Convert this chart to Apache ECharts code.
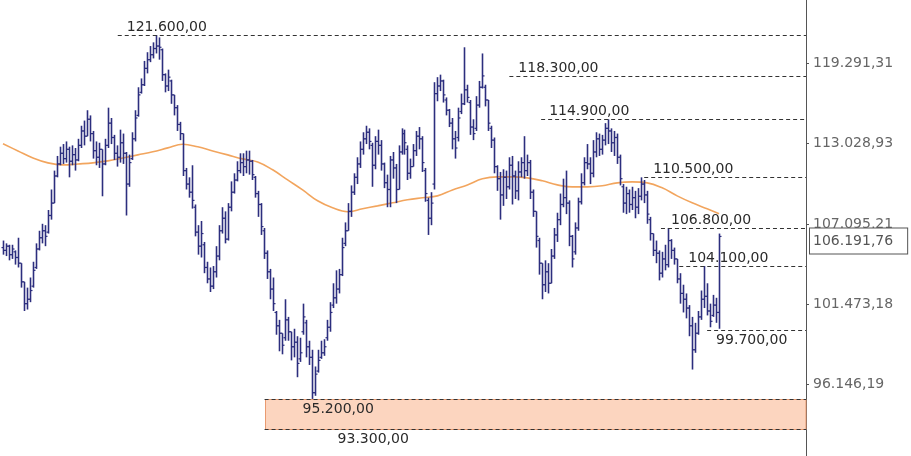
<!DOCTYPE html>
<html>
<head>
<meta charset="utf-8">
<title>Chart</title>
<script src="https://cdn.jsdelivr.net/npm/echarts@6/dist/echarts.min.js"></script>
<style>
  html, body { margin: 0; padding: 0; background: #fff; }
  #chart { width: 911px; height: 456px; }
</style>
</head>
<body>
<div id="chart"></div>
<script>
// OHLC bars, one per session (index 0..239)
const opens = [
  105400,105200,105500,104900,105100,104700,104300,103000,101500,101800,
  102700,104000,105300,106100,106600,106500,107700,108600,110600,111500,
  112300,111900,112600,111700,112200,111800,112900,114000,113600,114900,
  113800,112500,112000,112600,111500,112900,114600,113500,112300,112000,
  113100,112300,110000,111900,113400,115200,117000,117600,118900,119600,
  120000,120500,120700,120400,118400,117500,117900,116800,115800,114500,
  113800,111000,110000,109400,108300,106500,105500,105600,104000,103200,
  102700,103700,104800,106600,107500,106000,108300,109400,110300,111000,
  111600,111300,111800,111700,110500,109300,108500,106600,105000,103700,
  102500,100900,100000,99500,99200,100400,99600,98600,98900,97800,
  99600,100200,98600,97900,95600,97000,97900,98200,99200,99900,
  101400,101900,102500,103500,105700,106600,108000,109400,110500,111500,
  112600,113400,113900,112900,111400,113200,112900,111500,110100,109600,
  111800,111200,109600,112400,113800,112600,110800,111300,112500,113600,
  113400,111000,108800,107500,110000,116900,117500,117900,116400,115600,
  114600,113400,113500,115500,116100,117200,116200,114300,114200,116000,
  117400,117400,116400,114200,113300,111300,110400,109200,110500,109800,
  111400,110600,109500,110900,111600,111000,111600,109400,108000,105900,
  104300,102800,103700,102900,104800,106300,107400,108500,109000,108600,
  106200,105100,106800,108700,110100,111600,111500,110800,112400,113400,
  112600,113300,114200,114000,113100,113500,112000,109800,108600,109300,
  108500,109000,108300,109100,110000,109200,107400,106400,105200,105000,
  103600,104600,104200,105900,105200,104600,103200,102200,101800,101200,
  100000,98400,99500,100600,101800,102000,101000,100700,101400,100900
];
const highs = [
  105900,105700,105600,105600,105200,106100,104300,103000,102600,103300,
  104400,105700,106600,107100,107000,108100,109600,111000,112100,112800,
  113000,113200,112800,112900,112700,113400,114400,114800,115600,115200,
  114000,113200,113100,112600,113400,115800,115000,113700,112900,114100,
  113800,112400,112200,113900,115600,117400,118100,119500,120200,120700,
  121000,121600,121400,120500,118500,118800,118000,116800,116000,114700,
  113800,111200,110500,111400,108500,107000,107300,105800,104400,104000,
  104100,105500,107000,108300,108000,108600,110200,110800,111700,112300,
  112300,112500,112500,111800,110600,109500,108600,106800,105200,103900,
  103300,101000,100400,99500,101800,100600,99600,99800,99300,99200,
  101500,100400,99000,98400,97300,98400,99000,99100,100400,101600,
  102900,103800,103900,106100,107200,108600,109900,110800,112000,113200,
  113900,114400,114200,113100,113600,114100,113300,111600,110700,112100,
  112400,111500,112900,114200,114100,112900,111900,113000,114000,114300,
  113600,111200,109000,109400,117800,118200,118400,118000,116600,115700,
  115000,114000,115800,116900,120600,117600,116400,114900,116700,117900,
  120100,117600,116400,114400,113500,111400,110900,111100,111000,112000,
  112100,111000,111700,112000,113600,112200,111800,109600,108000,106100,
  104300,104500,104300,105300,106800,107900,109300,110400,111000,108800,
  106300,107200,109000,110800,112000,113000,112000,113300,113900,113800,
  113700,114600,114900,114200,114000,113800,112200,110000,109800,109600,
  109800,109500,109700,110500,110300,109500,107600,106400,105900,105200,
  105100,105600,106800,106000,105400,104600,103600,102800,102200,101400,
  100600,100200,101000,102400,104100,102900,101500,102100,101900,106400
];
const lows = [
  104900,104800,104500,104600,104200,104000,102600,101000,101100,101600,
  102600,103900,105200,105700,105500,106400,107400,108600,110500,111400,
  111500,111600,110500,111400,111000,111700,112700,112900,113600,113200,
  111900,111400,111200,109100,111400,112700,113000,111800,111300,111600,
  111500,107700,109800,111800,113200,115100,116900,117500,118500,119400,
  119700,120100,119600,117900,117000,117100,116100,115200,114000,113300,
  110600,109600,109000,108200,106200,104900,104700,103600,102900,102300,
  102500,103300,104500,106400,105700,105900,108000,109300,110200,110800,
  110600,110800,110700,110300,109000,107600,106300,104600,103200,101800,
  101000,99400,98300,98100,99000,99000,97700,97900,96600,97600,
  99400,97900,97400,95200,95400,96900,97800,98000,99000,99600,
  101200,101500,102200,103400,105500,106600,107600,109200,110000,111200,
  112200,113000,112600,109800,111100,112200,111000,109700,108300,108300,
  110400,108600,109600,112200,112200,110300,110400,111300,112100,112600,
  110900,108700,106300,107000,109600,116300,117100,116200,115200,114300,
  112600,111900,113200,115300,116000,116200,113700,113300,114000,115800,
  117300,115900,114000,112700,110800,109500,107400,108400,108900,109600,
  108500,108900,108800,110500,110400,110600,108900,107600,105400,103500,
  101800,102300,102200,102900,104600,105800,107000,108300,107800,105500,
  104000,104900,106600,108500,109900,111100,110000,110500,112000,112100,
  112200,112900,113000,112400,112100,111500,109900,107900,107800,107900,
  108100,107500,107800,108800,108600,107100,105900,104800,104300,103100,
  103300,103800,104000,104600,104200,102900,101500,100900,100500,99300,
  97100,98200,99400,100400,101200,100700,99900,100600,100200,99800
];
const closes = [
  105200,105500,104900,105300,104700,104300,103000,101500,101800,102400,
  103800,105300,106100,106600,106200,107700,108600,110600,111500,112300,
  111900,112600,111700,112200,111800,112900,114000,113600,114900,113800,
  112500,112000,112600,111500,112900,114600,113500,112300,112000,113100,
  112300,110000,111600,113400,115000,116800,117600,118900,119600,120000,
  120500,120700,120600,118400,117500,118200,116800,115800,114500,113800,
  111000,110000,109400,108800,106500,105500,106400,104000,103200,102700,
  103700,104800,106600,107500,106000,108300,109400,110300,111000,111600,
  111300,111800,111700,110700,109300,108500,106900,105000,103700,102500,
  101500,100000,99500,98700,100400,99600,98600,98900,97500,98200,
  100600,98600,97900,95600,96800,97700,98200,98600,99900,100900,
  101900,102500,103500,105400,106600,108000,109400,110500,111500,112600,
  113400,113900,113200,111400,113200,112900,111500,110100,109600,111800,
  111200,109600,112400,113800,113100,110800,111300,112500,113600,113400,
  111600,109300,107500,108600,116900,117500,117900,116800,115600,114600,
  113400,112700,115000,116100,117200,116600,114300,113800,116000,117400,
  118300,116400,114600,113300,111300,110400,109200,110500,109800,111400,
  110600,109500,110900,111600,111000,111600,109400,108000,106200,104300,
  102800,103700,102900,104800,106300,107400,108500,109000,108600,106200,
  104600,106800,108700,110100,111600,111500,110800,112400,113400,112600,
  113300,114200,114000,113100,113500,112000,110400,108600,109300,108500,
  109000,108300,109100,110000,109200,107800,106400,105200,105000,103600,
  104600,104200,105900,105200,104600,103200,102200,101800,101200,100000,
  98400,99500,100600,101800,102000,101000,100300,101400,100900,106191.76
];

// moving average, read every 5 bars (last one at bar 239)
const maBars = [
  0,5,10,15,20,25,30,35,40,45,50,55,60,65,70,75,80,85,90,95,100,105,110,115,
  120,125,130,135,140,145,150,155,160,165,170,175,180,185,190,195,200,205,
  210,215,220,225,230,235,239
];
const maValues = [
  113020,112480,111950,111580,111430,111500,111580,111730,111950,112180,
  112410,112710,112980,112790,112480,112180,111880,111650,111060,110310,
  109570,108770,108260,107970,108190,108400,108620,108840,108990,109130,
  109570,109940,110390,110530,110530,110460,110240,109940,109790,109790,
  109870,110090,110160,110090,109720,109130,108620,108190,107820
];

// horizontal levels (price, first bar they are drawn from)
const levelValues = [121600, 118300, 114900, 110500, 106800, 104100, 99700, 95200, 93300];
const levelFrom = [38.3, 169, 179.6, 214, 219.6, 225.7, 235, 87.3, 87.3];

// support zone
const zoneTop = 95200;
const zoneBottom = 93300;
const zoneFrom = 87.3;

// right axis
const tickValues = [96146.19, 101473.18, 107095.21, 113028.93, 119291.31];
const lastPrice = 106191.76;
const axisTop = 124496;
const axisBottom = 91615;

// label placement for the levels (offset from line start, above / below)
const levelLabel = [
  { dx: 9, below: false }, { dx: 9, below: false }, { dx: 8, below: false },
  { dx: 9, below: false }, { dx: 10, below: false }, { dx: 9, below: false },
  { dx: 9, below: true }, { dx: 38, below: true }, { dx: 73, below: true }
];

const FONT = 'DejaVu Sans';
const BAR_COLOR = '#2c2e7e';

function fmt (v) {
  const parts = v.toFixed(2).split('.');
  return parts[0].replace(/\B(?=(\d{3})+(?!\d))/g, '.') + ',' + parts[1];
}
const ln = Math.log;

const bars = closes.map((c, i) => [i, ln(opens[i]), ln(highs[i]), ln(lows[i]), ln(c)]);
const maData = maValues.map((v, k) => [maBars[k], ln(v)]);
const levelData = levelValues.map((v, k) => [levelFrom[k], ln(v), k]);

const chart = echarts.init(document.getElementById('chart'));

chart.setOption({
  animation: false,
  backgroundColor: '#fff',
  grid: { left: 0, right: 105, top: 0, bottom: 0 },
  xAxis: {
    type: 'value',
    min: -1,
    max: 268,
    show: false
  },
  yAxis: {
    type: 'value',
    position: 'right',
    min: ln(axisBottom),
    max: ln(axisTop),
    axisLine: { show: true, onZero: false, lineStyle: { color: '#555' } },
    axisTick: { show: true, length: 3, customValues: tickValues.map(ln), lineStyle: { color: '#555' } },
    axisLabel: {
      customValues: tickValues.map(ln),
      margin: 7,
      padding: [4, 0, 0, 0],
      color: '#666',
      fontFamily: FONT,
      fontSize: 14,
      formatter: v => fmt(Math.exp(v))
    },
    splitLine: { show: false }
  },
  series: [{
    // support zone
    type: 'custom',
    z: 1,
    silent: true,
    data: [[zoneFrom, ln(zoneTop), ln(zoneBottom)]],
    renderItem (params, api) {
      const a = api.coord([api.value(0), api.value(1)])
      const b = api.coord([api.value(0), api.value(2)])
      const right = params.coordSys.x + params.coordSys.width
      const x = Math.round(a[0]) + 0.5
      return {
        type: 'rect',
        shape: { x: x, y: Math.round(a[1]) + 0.5, width: right - x, height: Math.round(b[1] - a[1]) },
        style: { fill: '#fcd5bf', stroke: '#e99a70', lineWidth: 1 }
      }
    }
  }, {
    name: 'MA',
    type: 'line',
    z: 2,
    data: maData,
    smooth: 0.4,
    showSymbol: false,
    lineStyle: { color: '#f2a55e', width: 1.6 },
    markLine: {
      silent: true,
      symbol: ['none', 'none'],
      data: [{ yAxis: ln(lastPrice) }],
      lineStyle: { color: 'rgba(0,0,0,0)', width: 1 },
      label: {
        show: true,
        position: 'end',
        distance: 4,
        formatter: () => fmt(lastPrice),
        color: '#555',
        fontFamily: FONT,
        fontSize: 14,
        backgroundColor: '#fff',
        borderColor: '#555',
        borderWidth: 1,
        padding: [6, 14, 5, 3]
      }
    }
  }, {
    name: 'OHLC',
    type: 'custom',
    z: 3,
    data: bars,
    encode: { x: 0, y: [1, 2, 3, 4] },
    renderItem (params, api) {
      const i = api.value(0)
      const o = api.coord([i, api.value(1)])
      const h = api.coord([i, api.value(2)])
      const l = api.coord([i, api.value(3)])
      const c = api.coord([i, api.value(4)])
      const x = Math.round(h[0]) + 0.5
      const tick = { stroke: BAR_COLOR, lineWidth: 1.2 }
      return {
        type: 'group',
        children: [
          { type: 'line', shape: { x1: x, y1: h[1], x2: x, y2: l[1] }, style: { stroke: BAR_COLOR, lineWidth: 1.6 } },
          { type: 'line', shape: { x1: x - 2, y1: o[1], x2: x, y2: o[1] }, style: tick },
          { type: 'line', shape: { x1: x, y1: c[1], x2: x + 2, y2: c[1] }, style: tick }
        ]
      }
    }
  }, {
    // dashed price levels with their labels
    type: 'custom',
    z: 4,
    silent: true,
    data: levelData,
    renderItem (params, api) {
      const k = api.value(2)
      const p = api.coord([api.value(0), api.value(1)])
      const right = params.coordSys.x + params.coordSys.width
      const y = Math.round(p[1]) + 0.5
      const lab = levelLabel[k]
      return {
        type: 'group',
        children: [
          { type: 'line', shape: { x1: p[0], y1: y, x2: right, y2: y }, style: { stroke: '#333', lineWidth: 1, lineDash: [4, 3] } },
          {
            type: 'text',
            x: p[0] + lab.dx,
            y: lab.below ? y + 3 : y - 1,
            style: {
              text: fmt(levelValues[k]),
              fill: '#2a2a2a',
              fontFamily: FONT,
              fontSize: 14,
              align: 'left',
              verticalAlign: lab.below ? 'top' : 'bottom'
            }
          }
        ]
      }
    }
  }]
})
</script>
</body>
</html>
